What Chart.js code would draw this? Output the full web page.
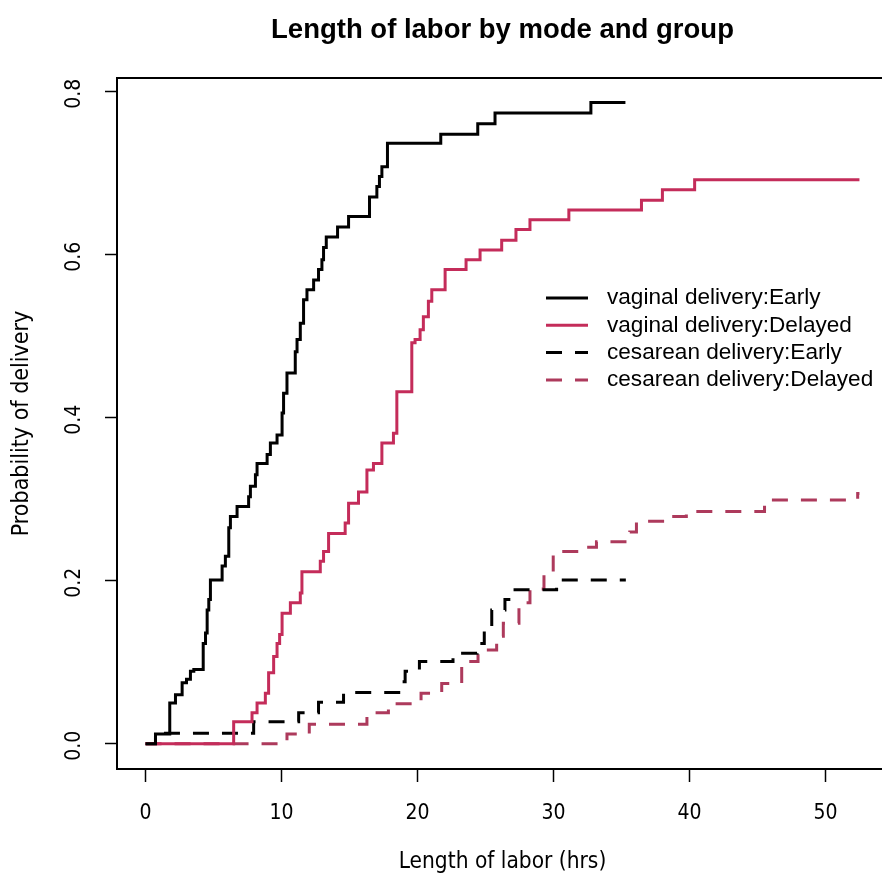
<!DOCTYPE html>
<html lang="en">
<head>
<meta charset="UTF-8" />
<title>Length of labor by mode and group</title>
<script src="https://cdn.jsdelivr.net/npm/chart.js"></script>
<style>
  html, body { margin: 0; padding: 0; background: #fff; overflow: hidden; }
  canvas { display: block; }
</style>
</head>
<body>
<canvas id="grafica" width="900" height="876"></canvas>

<script>
// tick labels
const xTicks = [0, 10, 20, 30, 40, 50];
const yTicks = [0, 0.2, 0.4, 0.6, 0.8];

const seriesLabels = [
  'vaginal delivery:Early',
  'vaginal delivery:Delayed',
  'cesarean delivery:Early',
  'cesarean delivery:Delayed'
];

// step curves: time (hrs) where the curve jumps, and value after the jump
const vagEarlyTime = [0, 0.73, 1.78, 2.20, 2.69, 3.01, 3.30, 3.55, 4.24, 4.41, 4.53, 4.65, 4.77, 5.63, 5.87, 6.12, 6.24, 6.73, 7.58, 7.71, 8.08, 8.20, 8.94, 9.18, 9.67, 10.04, 10.15, 10.40, 11.01, 11.14, 11.38, 11.62, 11.87, 12.36, 12.72, 12.97, 13.09, 13.29, 14.12, 14.93, 16.47, 17.01, 17.20, 17.38, 17.79, 21.71, 24.43, 25.70, 32.75, 35.29];
const vagEarlyProb = [0, 0.012, 0.050, 0.060, 0.075, 0.079, 0.089, 0.091, 0.123, 0.136, 0.164, 0.177, 0.201, 0.218, 0.230, 0.265, 0.279, 0.291, 0.303, 0.316, 0.330, 0.344, 0.355, 0.369, 0.379, 0.406, 0.430, 0.455, 0.481, 0.496, 0.516, 0.545, 0.557, 0.569, 0.582, 0.594, 0.609, 0.622, 0.634, 0.647, 0.671, 0.684, 0.696, 0.708, 0.737, 0.748, 0.761, 0.774, 0.787, 0.787];

const vagDelayedTime = [0, 6.48, 7.83, 8.20, 8.81, 9.05, 9.42, 9.67, 9.86, 10.04, 10.65, 11.38, 11.50, 12.85, 13.09, 13.46, 14.68, 14.93, 15.66, 16.28, 16.76, 17.38, 18.23, 18.48, 19.58, 19.82, 20.19, 20.43, 20.80, 21.05, 22.03, 23.57, 24.60, 26.19, 27.24, 28.27, 31.13, 36.47, 38.01, 40.38, 52.50];
const vagDelayedProb = [0, 0.027, 0.038, 0.050, 0.062, 0.087, 0.107, 0.123, 0.134, 0.160, 0.173, 0.185, 0.211, 0.224, 0.236, 0.258, 0.271, 0.295, 0.309, 0.336, 0.344, 0.369, 0.381, 0.432, 0.492, 0.496, 0.508, 0.524, 0.543, 0.557, 0.582, 0.594, 0.606, 0.618, 0.631, 0.643, 0.655, 0.667, 0.680, 0.692, 0.692];

const cesEarlyTime = [0, 0.73, 7.95, 11.26, 12.72, 14.56, 18.85, 19.09, 20.14, 22.61, 24.38, 24.91, 25.46, 26.43, 26.85, 30.23, 35.32];
const cesEarlyProb = [0, 0.013, 0.027, 0.038, 0.051, 0.063, 0.076, 0.089, 0.101, 0.111, 0.123, 0.142, 0.164, 0.177, 0.189, 0.201, 0.201];

const cesDelayedTime = [0, 10.40, 12.04, 16.28, 17.86, 20.26, 21.78, 23.25, 24.45, 25.82, 26.31, 27.46, 28.27, 29.30, 29.98, 32.18, 33.16, 35.61, 36.10, 38.55, 39.77, 45.52, 52.37, 52.50];
const cesDelayedProb = [0, 0.012, 0.024, 0.038, 0.049, 0.062, 0.074, 0.101, 0.115, 0.132, 0.148, 0.173, 0.190, 0.211, 0.236, 0.241, 0.248, 0.260, 0.273, 0.279, 0.285, 0.299, 0.307, 0.307];

const RED = '#c42c5a';
const RED_DASH = '#ad3a5c';
const narrow = "'Liberation Sans Narrow', 'Arial Narrow', 'DejaVu Sans Condensed', sans-serif";
const sans = "'Liberation Sans', Arial, sans-serif";

function pts(t, p) {
  return t.map((x, i) => ({ x: x, y: p[i] }));
}

// box around the plot region (R style bty="o")
const frame = {
  id: 'frame',
  afterDraw(chart) {
    const { ctx, chartArea: a } = chart;
    ctx.save();
    ctx.strokeStyle = '#000';
    ctx.lineWidth = 2;
    ctx.strokeRect(a.left, a.top, a.right - a.left, a.bottom - a.top);
    ctx.restore();
  }
};

// legend without box, placed inside the plot like R's legend()
const rLegend = {
  id: 'rLegend',
  afterDraw(chart) {
    const ctx = chart.ctx;
    const x0 = 546, x1 = 588, tx = 607, y0 = 298, dy = 27.3;
    ctx.save();
    ctx.font = '22.6px ' + sans;
    ctx.textBaseline = 'middle';
    ctx.textAlign = 'left';
    chart.data.datasets.forEach((ds, i) => {
      const y = y0 + i * dy;
      ctx.strokeStyle = ds.borderColor;
      ctx.lineWidth = 3;
      ctx.setLineDash(ds.borderDash || []);
      ctx.beginPath();
      ctx.moveTo(x0, y);
      ctx.lineTo(x1, y);
      ctx.stroke();
      ctx.setLineDash([]);
      ctx.fillStyle = '#000';
      ctx.fillText(ds.label, tx, y);
    });
    ctx.restore();
  }
};

const ctx = document.getElementById('grafica').getContext('2d');
new Chart(ctx, {
  type: 'line',
  data: {
    datasets: [
      { label: seriesLabels[0], data: pts(vagEarlyTime, vagEarlyProb), borderColor: '#000', borderWidth: 3 },
      { label: seriesLabels[1], data: pts(vagDelayedTime, vagDelayedProb), borderColor: RED, borderWidth: 3 },
      { label: seriesLabels[2], data: pts(cesEarlyTime, cesEarlyProb), borderColor: '#000', borderWidth: 3, borderDash: [16, 13] },
      { label: seriesLabels[3], data: pts(cesDelayedTime, cesDelayedProb), borderColor: RED_DASH, borderWidth: 3, borderDash: [16, 13] }
    ]
  },
  options: {
    responsive: false,
    animation: false,
    devicePixelRatio: 1,
    elements: {
      line: { stepped: 'before', fill: false, tension: 0, borderCapStyle: 'butt' },
      point: { radius: 0 }
    },
    layout: { padding: { left: 0, right: 12, top: 0, bottom: 0 } },
    plugins: {
      legend: { display: false },
      tooltip: { enabled: false },
      title: {
        display: true,
        fullSize: false,
        text: 'Length of labor by mode and group',
        color: '#000',
        font: { family: sans, size: 27.5, weight: 'bold', lineHeight: 1.2 },
        padding: { top: 14, bottom: 31 }
      }
    },
    scales: {
      x: {
        type: 'linear',
        min: -2.1,
        max: 54.6,
        afterBuildTicks: s => { s.ticks = xTicks.map(v => ({ value: v })); },
        afterFit: s => { s.height = 107; },
        grid: { display: true, drawOnChartArea: false, drawTicks: true, tickLength: 13, tickColor: '#000', tickWidth: 1.5 },
        border: { display: false },
        ticks: {
          autoSkip: false,
          maxRotation: 0,
          color: '#000',
          padding: 19,
          font: { family: narrow, size: 21 },
          callback: v => String(v)
        },
        title: {
          display: true,
          text: 'Length of labor (hrs)',
          color: '#000',
          font: { family: narrow, size: 22.5, lineHeight: 1.2 },
          padding: { top: 0, bottom: 0 }
        }
      },
      y: {
        type: 'linear',
        min: -0.031,
        max: 0.817,
        afterBuildTicks: s => { s.ticks = yTicks.map(v => ({ value: v })); },
        afterFit: s => { s.width = 117; },
        grid: { display: true, drawOnChartArea: false, drawTicks: true, tickLength: 12, tickColor: '#000', tickWidth: 1.5 },
        border: { display: false },
        ticks: {
          autoSkip: false,
          minRotation: 90,
          maxRotation: 90,
          color: '#000',
          padding: 30,
          labelOffset: -13.1,
          font: { family: narrow, size: 21 },
          callback: v => v.toFixed(1)
        },
        title: {
          display: true,
          text: 'Probability of delivery',
          color: '#000',
          font: { family: narrow, size: 23, lineHeight: 1.2 },
          padding: { top: 8, bottom: 0 }
        }
      }
    }
  },
  plugins: [frame, rLegend]
});
</script>
</body>
</html>
